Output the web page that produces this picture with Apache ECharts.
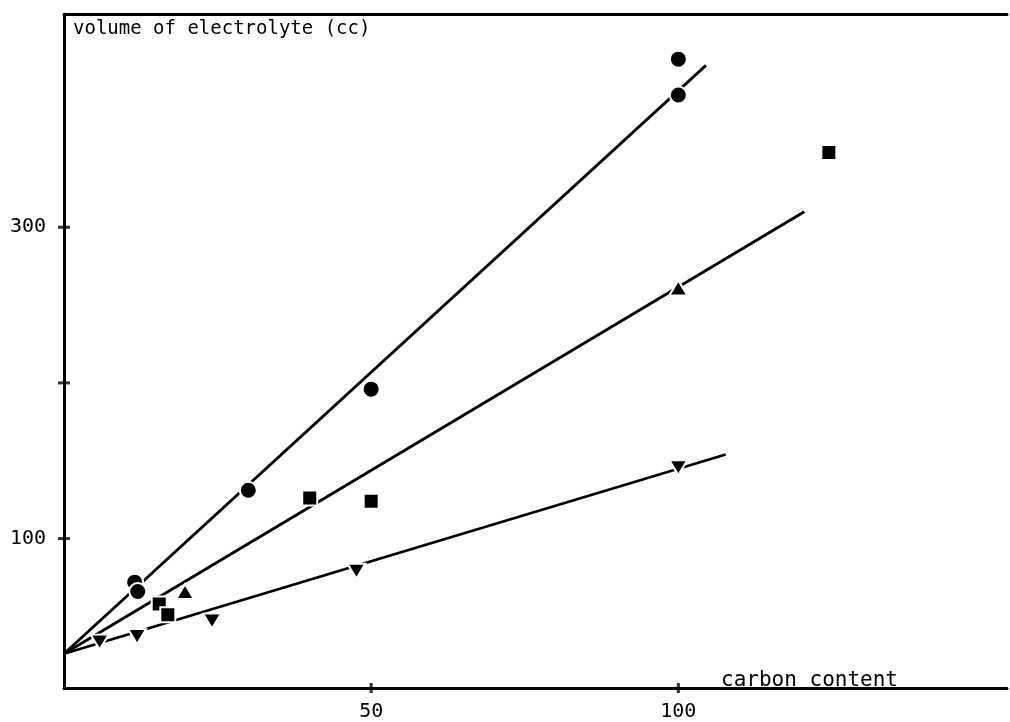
<!DOCTYPE html>
<html>
<head>
<meta charset="utf-8">
<script src="https://cdn.jsdelivr.net/npm/echarts@6/dist/echarts.min.js"></script>
<style>
  html, body { margin: 0; padding: 0; background: #fff; overflow: hidden; }
  #chart { width: 1010px; height: 722px; }
</style>
</head>
<body>
<div id="chart"></div>
<script>
// measured points, [carbon content, volume of electrolyte]
var circles = [[100, 408], [100, 385], [50, 196], [30, 131], [11.5, 72], [12, 66]];
var squares = [[124.5, 348], [40, 126], [50, 124], [15.5, 58], [16.9, 51]];
var trianglesUp = [[100, 261], [19.7, 66]];
var trianglesDown = [[100, 145.5], [47.6, 79], [24.1, 47], [11.9, 37], [5.8, 33.5]];

// fitted lines, start and end point
var circleLine = [[0, 26], [104.5, 404]];
var middleLine = [[0, 26], [120.5, 310]];
var bottomLine = [[0, 26], [107.7, 154]];

var xTicks = [50, 100];
var yTicks = [100, 200, 300];
var yLabels = [100, 300];

var xMin = 0, xMax = 153.5, yMin = 4, yMax = 437;

var font = 'DejaVu Sans Mono';
var chart = echarts.init(document.getElementById('chart'));

function lineSeries(data) {
  return {
    type: 'line', data: data, symbol: 'none', silent: true, z: 2,
    lineStyle: { color: '#000', width: 2.8 }
  };
}
function markSeries(data, symbol, size, rotate) {
  return {
    type: 'scatter', data: data, symbol: symbol, symbolSize: size,
    symbolRotate: rotate || 0, z: 3,
    itemStyle: { color: '#000', borderColor: '#fff', borderWidth: 2, opacity: 1 }
  };
}
// tick marks crossing the axis lines
function tickSeries(data, size) {
  return {
    type: 'scatter', data: data, symbol: 'rect', symbolSize: size, clip: false,
    silent: true, z: 4, itemStyle: { color: '#000' }
  };
}

chart.setOption({
  backgroundColor: '#fff',
  animation: false,
  title: [{
    text: 'volume of electrolyte (cc)', left: 68, top: 15,
    textStyle: { fontFamily: font, fontSize: 19, fontWeight: 'normal', color: '#000' }
  }, {
    text: 'carbon content', left: 716, top: 665,
    textStyle: { fontFamily: font, fontSize: 21, fontWeight: 'normal', color: '#000' }
  }],
  grid: { left: 64, right: 3, top: 14, bottom: 32 },
  xAxis: [{
    type: 'value', min: xMin, max: xMax, position: 'bottom',
    axisLine: { onZero: false, lineStyle: { color: '#000', width: 3 } },
    axisTick: { show: false },
    axisLabel: { customValues: xTicks, margin: 14, fontFamily: font, fontSize: 20, color: '#000' },
    splitLine: { show: false }
  }, {
    type: 'value', min: xMin, max: xMax, position: 'top',
    axisLine: { onZero: false, lineStyle: { color: '#000', width: 3 } },
    axisTick: { show: false }, axisLabel: { show: false }, splitLine: { show: false }
  }],
  yAxis: {
    type: 'value', min: yMin, max: yMax, position: 'left',
    axisLine: { onZero: false, lineStyle: { color: '#000', width: 3 } },
    axisTick: { show: false },
    axisLabel: { customValues: yLabels, margin: 18, fontFamily: font, fontSize: 20, color: '#000' },
    splitLine: { show: false }
  },
  series: [
    lineSeries(circleLine),
    lineSeries(middleLine),
    lineSeries(bottomLine),
    markSeries(circles, 'circle', 17),
    markSeries(squares, 'rect', 15),
    markSeries(trianglesUp, 'triangle', [18, 15]),
    markSeries(trianglesDown, 'triangle', [18, 15], 180),
    tickSeries(yTicks.map(function (v) { return [xMin, v]; }), [12, 3]),
    tickSeries(xTicks.map(function (v) { return [v, yMin]; }), [3, 10])
  ]
});
</script>
</body>
</html>
